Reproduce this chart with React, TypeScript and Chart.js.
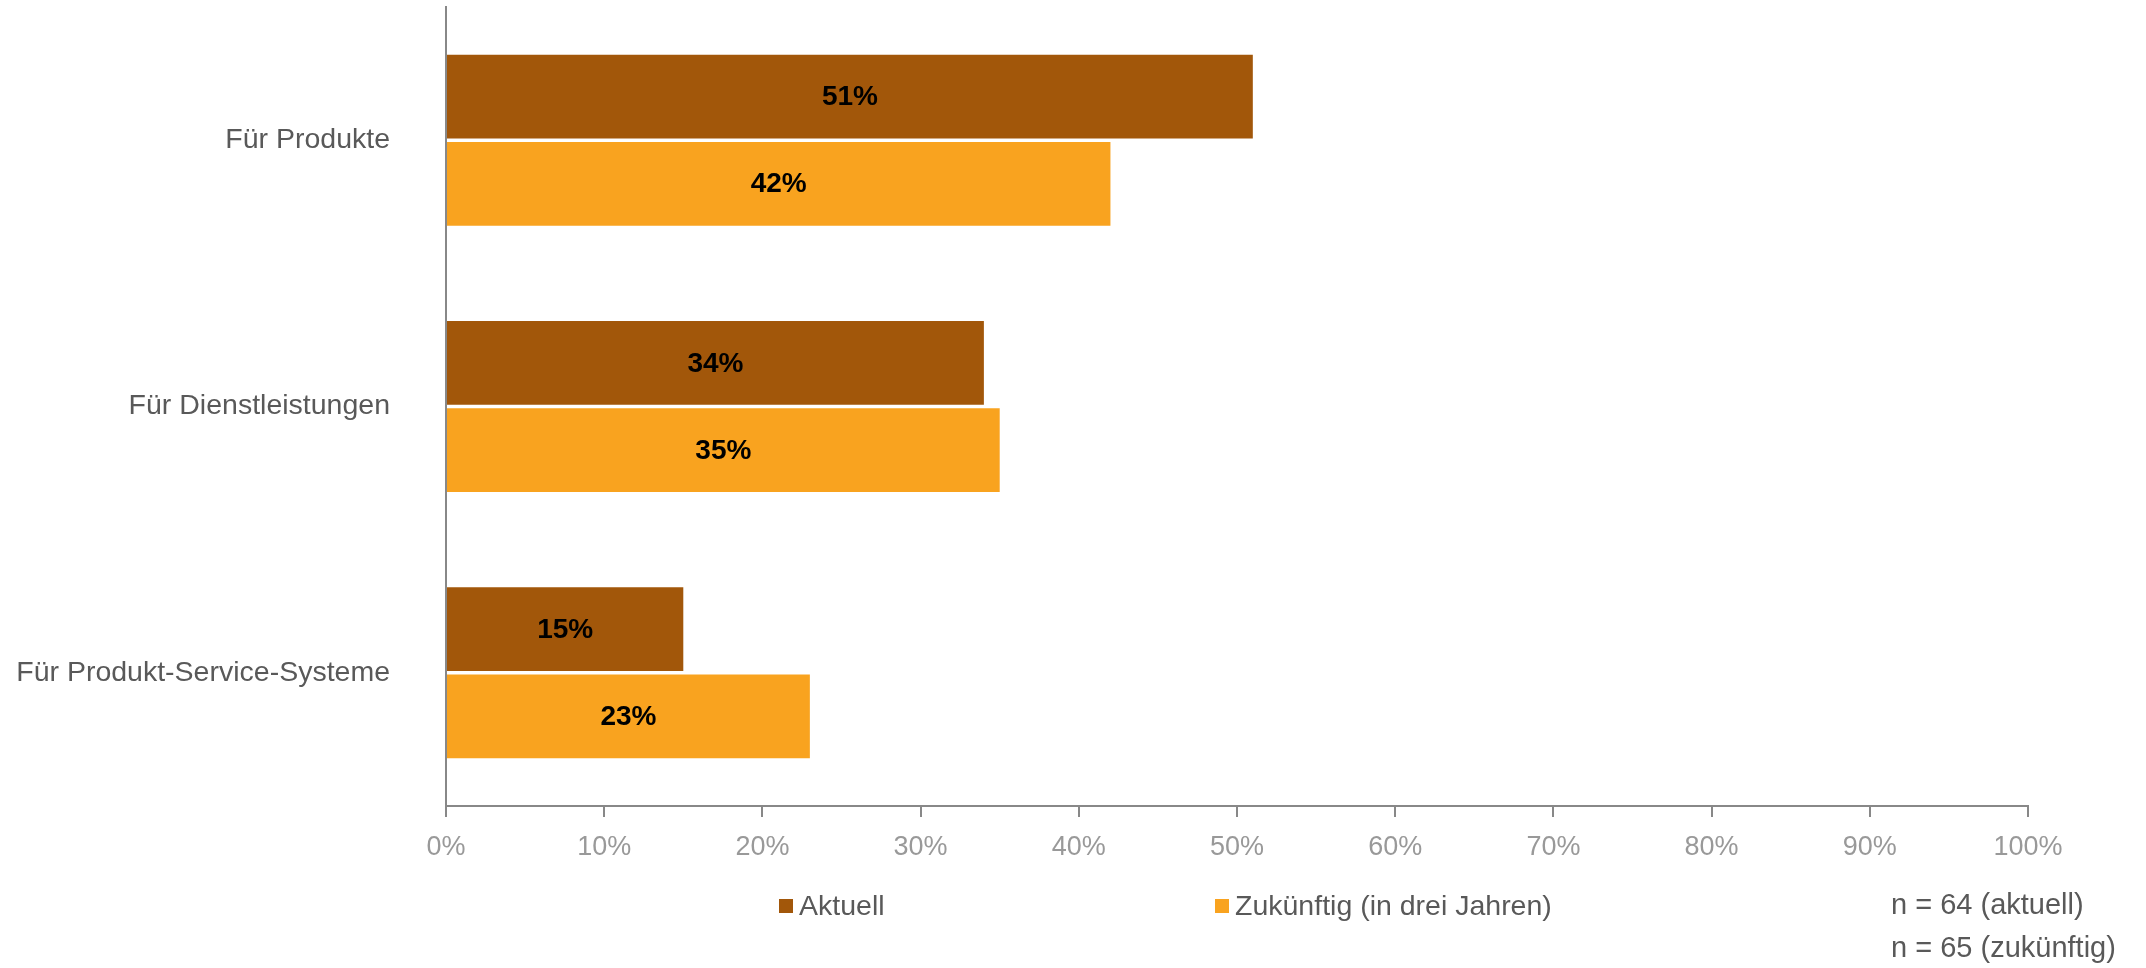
import React, { useEffect, useRef } from "react";
import { Chart, registerables } from "chart.js";

Chart.register(...registerables);

const categories = ["Für Produkte", "Für Dienstleistungen", "Für Produkt-Service-Systeme"];
const seriesNames = ["Aktuell", "Zukünftig (in drei Jahren)"];
const aktuell = [51, 34, 15];
const zukuenftig = [42, 35, 23];
const seriesColors = ["#A2570A", "#F9A31F"];
const notes = ["n = 64 (aktuell)", "n = 65 (zukünftig)"];

const FONT = "'Liberation Sans', Arial, sans-serif";

const overlayPlugin = {
  id: "overlay",
  afterDatasetsDraw(chart: any) {
    const ctx = chart.ctx;
    ctx.save();
    // data labels
    ctx.font = `bold 28px ${FONT}`;
    ctx.fillStyle = "#000";
    ctx.textAlign = "center";
    ctx.textBaseline = "middle";
    chart.data.datasets.forEach((ds: any, di: number) => {
      const meta = chart.getDatasetMeta(di);
      meta.data.forEach((bar: any, i: number) => {
        const x = (bar.x + bar.base) / 2;
        ctx.fillText(ds.data[i] + "%", x, bar.y + 1);
      });
    });
    // legend
    const legendX = [779, 1215];
    const legendY = 906;
    ctx.font = `28.5px ${FONT}`;
    ctx.textAlign = "left";
    chart.data.datasets.forEach((ds: any, di: number) => {
      ctx.fillStyle = ds.backgroundColor;
      ctx.fillRect(legendX[di], legendY - 7, 14, 14);
      ctx.fillStyle = "#595959";
      ctx.fillText(ds.label, legendX[di] + 20, legendY + 1);
    });
    // notes
    ctx.font = `29px ${FONT}`;
    ctx.fillStyle = "#595959";
    ctx.fillText(notes[0], 1891, 906);
    ctx.fillText(notes[1], 1891, 949);
    ctx.restore();
  },
};

export default function App() {
  const ref = useRef<HTMLCanvasElement>(null);
  useEffect(() => {
    if (!ref.current) return;
    const chart = new Chart(ref.current, {
      type: "bar",
      data: {
        labels: categories,
        datasets: [
          { label: seriesNames[0], data: aktuell, backgroundColor: seriesColors[0], barPercentage: 0.96, categoryPercentage: 0.655 },
          { label: seriesNames[1], data: zukuenftig, backgroundColor: seriesColors[1], barPercentage: 0.96, categoryPercentage: 0.655 },
        ],
      },
      options: {
        indexAxis: "y",
        responsive: false,
        animation: false,
        layout: { padding: { left: 0, top: 7, right: 118, bottom: 92 } },
        plugins: { legend: { display: false }, tooltip: { enabled: false } },
        scales: {
          x: {
            min: 0,
            max: 100,
            ticks: {
              stepSize: 10,
              callback: (v: any) => v + "%",
              color: "#999999",
              font: { family: FONT, size: 27 },
              padding: 14,
            },
            grid: { display: true, drawOnChartArea: false, drawTicks: true, tickLength: 11, color: "#888888", lineWidth: 2 },
            border: { display: true, color: "#888888", width: 2 },
            afterFit: (s: any) => { s.height = 70; },
          },
          y: {
            ticks: { color: "#595959", font: { family: FONT, size: 28.5 }, padding: 6 },
            grid: { display: true, drawOnChartArea: false, drawTicks: true, tickLength: 50, color: "rgba(0,0,0,0)" },
            border: { display: true, color: "#888888", width: 2 },
            afterFit: (s: any) => { s.width = 446; s.paddingTop = 0; s.paddingBottom = 0; },
          },
        },
      },
      plugins: [overlayPlugin],
    });
    return () => chart.destroy();
  }, []);
  return (
    <div style={{ position: "fixed", left: 0, top: 0, width: 2146, height: 968, background: "#fff" }}>
      <canvas ref={ref} width={2146} height={968} style={{ display: "block", width: 2146, height: 968 }} />
    </div>
  );
}
